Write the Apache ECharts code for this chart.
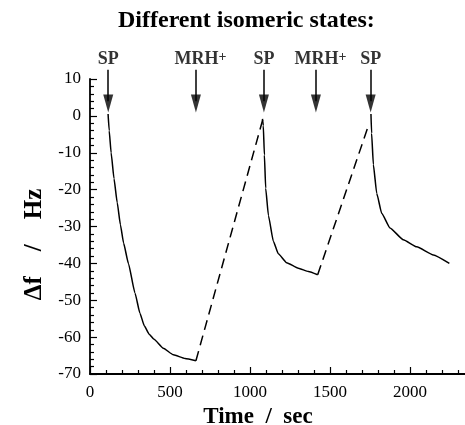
<!DOCTYPE html>
<html>
<head>
<meta charset="utf-8">
<script src="https://cdn.jsdelivr.net/npm/echarts@6/dist/echarts.min.js"></script>
<style>html,body{margin:0;padding:0;background:#fff}#c{width:465px;height:425px}</style>
</head>
<body>
<div id="c"></div>
<script>
// Data
const decay1 = [[113,0.5],[120,-4],[132,-10],[150,-17],[170,-23.5],[190,-29.5],[210,-34.5],[240,-40],[281,-48],[312,-53.5],[340,-57],[370,-59.2],[400,-60.6],[458,-63],[521,-64.8],[594,-65.8],[662,-66.4]];
const recovery1 = [[662,-66.4],[1079,-1.1]];
const decay2 = [[1078,-0.8],[1083,-2.6],[1090,-10.6],[1098,-19.6],[1115,-27],[1146,-34],[1177,-37.4],[1229,-39.8],[1302,-41.3],[1365,-42.2],[1423,-43.1]];
const recovery2 = [[1423,-43.1],[1745,-2]];
const decay3 = [[1756,0.5],[1760,-4.7],[1771,-13.2],[1792,-21],[1823,-26.4],[1875,-30.4],[1958,-33.6],[2042,-35.5],[2146,-37.7],[2246,-40]];
const arrowX = [114, 662, 1087, 1412, 1754];
const arrowLabels = ['SP', 'MRH+', 'SP', 'MRH+', 'SP'];
const arrowTop = 12.5;
const arrowTip = 0.9;
const arrowShaftEnd = 4;

const FONT = 'Liberation Serif';
const chart = echarts.init(document.getElementById('c'));

const solid = {type:'line', showSymbol:false, symbol:'none', smooth:0.15, smoothMonotone:'x', lineStyle:{color:'#000', width:1.5}, animation:false};
const dashed = {type:'line', showSymbol:false, symbol:'none', lineStyle:{color:'#000', width:1.5, type:[10,6]}, animation:false};

chart.setOption({
  animation: false,
  backgroundColor: '#fff',
  title: {
    text: 'Different isomeric states:',
    left: 118, top: 9, padding: 0,
    textStyle: {fontFamily: FONT, fontWeight: 'bold', fontSize: 24, color: '#000'}
  },
  grid: {left: 90, right: -25, top: 79, bottom: 51, containLabel: false, outerBoundsMode: 'none'},
  xAxis: {
    type: 'value', min: 0, max: 2500, interval: 500,
    name: 'Time  /  sec', nameLocation: 'middle', nameGap: 32,
    nameTextStyle: {fontFamily: FONT, fontWeight: 'bold', fontSize: 23, color: '#000', padding: [0, 64, 0, 0]},
    axisLine: {show: true, onZero: false, lineStyle: {color: '#000', width: 1.8}},
    axisTick: {show: true, inside: true, length: 7, lineStyle: {color: '#000', width: 1.2}},
    minorTick: {show: true, splitNumber: 5, length: 4, lineStyle: {color: '#000', width: 1.2}},
    splitLine: {show: false},
    axisLabel: {fontFamily: FONT, fontSize: 17, color: '#000', margin: 10, showMaxLabel: false, formatter: v => String(v)}
  },
  yAxis: {
    type: 'value', min: -70, max: 10, interval: 10,
    name: 'Δf    /    Hz', nameLocation: 'middle', nameGap: 36, nameRotate: 90,
    nameTextStyle: {fontFamily: FONT, fontWeight: 'bold', fontSize: 25, color: '#000', padding: [0, 36, 0, 0]},
    axisLine: {show: true, onZero: false, lineStyle: {color: '#000', width: 1.8}},
    axisTick: {show: true, inside: true, length: 7, lineStyle: {color: '#000', width: 1.2}},
    minorTick: {show: true, splitNumber: 5, length: 4, lineStyle: {color: '#000', width: 1.2}},
    splitLine: {show: false},
    axisLabel: {fontFamily: FONT, fontSize: 17, color: '#000', margin: 9, formatter: v => String(v)}
  },
  series: [
    Object.assign({data: decay1}, solid),
    Object.assign({data: recovery1}, dashed),
    Object.assign({data: decay2}, solid),
    Object.assign({data: recovery2}, dashed),
    Object.assign({data: decay3}, solid),
    {
      type: 'lines', coordinateSystem: 'cartesian2d', clip: false, animation: false,
      lineStyle: {color: '#000', width: 1.5, opacity: 1},
      symbol: 'none',
      data: arrowX.map(x => ({coords: [[x, arrowTop], [x, arrowShaftEnd]]}))
    },
    {
      type: 'scatter', clip: false, animation: false,
      symbol: 'path://M0,0 L10,0 L5,18 Z', symbolSize: [10, 18], symbolOffset: [0, '-50%'],
      itemStyle: {color: '#000'},
      data: arrowX.map(x => [x, arrowTip]),
      silent: true
    },
    {
      type: 'scatter', clip: false, animation: false,
      symbolSize: 1, itemStyle: {color: 'rgba(0,0,0,0)'},
      data: arrowX.map((x, i) => ({value: [x, arrowTop], name: arrowLabels[i]})),
      label: {
        show: true, position: 'top', distance: 1,
        formatter: p => p.name.endsWith('+') ? '{m|' + p.name.slice(0, -1) + '}{s|+}' : '{n|' + p.name + '}',
        rich: {
          n: {fontFamily: FONT, fontWeight: 'bold', fontSize: 18, color: '#000', lineHeight: 18},
          m: {fontFamily: FONT, fontWeight: 'bold', fontSize: 18, color: '#000', lineHeight: 18, padding: [0, 0, 0, 9]},
          s: {fontFamily: FONT, fontWeight: 'bold', fontSize: 14, color: '#000', lineHeight: 12, verticalAlign: 'top'}
        }
      },
      silent: true
    }
  ]
});
</script>
</body>
</html>
